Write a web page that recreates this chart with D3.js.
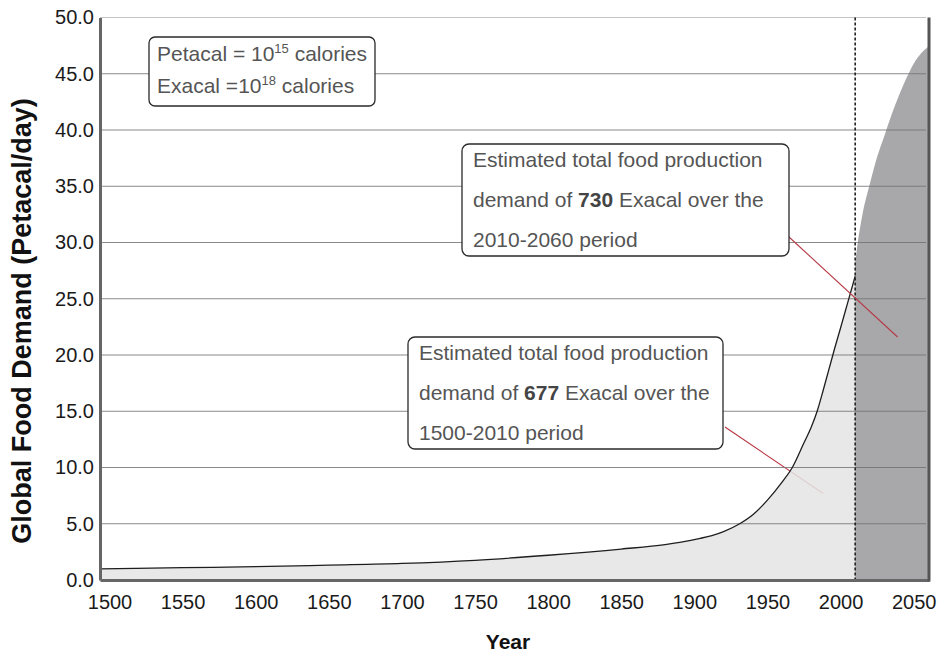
<!DOCTYPE html>
<html>
<head>
<meta charset="utf-8">
<script src="https://cdn.jsdelivr.net/npm/d3@7"></script>
<style>
  body { margin: 0; background: #fff; }
  svg { display: block; font-family: "Liberation Sans", Arial, sans-serif; }
</style>
</head>
<body>
<svg id="chart" width="944" height="653"></svg>
<script>
// Historical global food demand (Petacal/day)
const histYears  = [1490, 1550, 1600, 1650, 1700, 1750, 1800, 1850, 1880, 1890, 1904, 1912, 1920, 1931, 1940, 1950, 1960, 1967, 1975, 1980, 1984, 1988, 1992, 1996, 2000, 2005, 2010];
const histDemand = [0.98, 1.1, 1.18, 1.32, 1.47, 1.75, 2.2, 2.75, 3.15, 3.35, 3.7, 3.95, 4.3, 5.0, 5.8, 7.1, 8.7, 10.0, 12.2, 13.6, 15.0, 16.8, 18.7, 20.6, 22.4, 24.7, 27.0];

// Projected demand, 2010 onward
const projYears  = [2010, 2012, 2015, 2020, 2025, 2030, 2035, 2040, 2045, 2050, 2055, 2060, 2062];
const projDemand = [28.2, 30.2, 32.5, 35.2, 37.6, 39.5, 41.4, 43.1, 44.6, 45.9, 46.8, 47.4, 47.6];

const yTicks = [0, 5, 10, 15, 20, 25, 30, 35, 40, 45, 50];
const xTicks = [1500, 1550, 1600, 1650, 1700, 1750, 1800, 1850, 1900, 1950, 2000, 2050];
const splitYear = 2010;

// Leader-line targets (year, demand)
const pastTarget   = [1988, 7.7];
const futureTarget = [2039, 21.6];

const svg = d3.select("#chart");
const plot = { left: 100, right: 929, top: 17.5, bottom: 580 };

const x = d3.scaleLinear().domain([1493.5, 2060.5]).range([plot.left, plot.right]);
const y = d3.scaleLinear().domain([0, 50]).range([plot.bottom, plot.top]);

const hist = histYears.map((yr, i) => ({ yr, v: histDemand[i] }));
const proj = projYears.map((yr, i) => ({ yr, v: projDemand[i] }));

svg.append("defs").append("clipPath").attr("id", "plotClip")
  .append("rect")
  .attr("x", plot.left).attr("y", plot.top)
  .attr("width", plot.right - plot.left).attr("height", plot.bottom - plot.top);

const g = svg.append("g").attr("clip-path", "url(#plotClip)");

// Annotation boxes (layout)
const pastBox   = { x: 408, y: 337, w: 315, h: 112, num: "677", period: "1500-2010 period", leadY: 90 };
const futureBox = { x: 462, y: 144, w: 327, h: 112, num: "730", period: "2010-2060 period", leadY: 93 };

// leader for the historical note sits under the translucent light area
g.append("line")
  .attr("x1", pastBox.x + pastBox.w + 2).attr("y1", pastBox.y + pastBox.leadY)
  .attr("x2", x(pastTarget[0])).attr("y2", y(pastTarget[1]))
  .attr("stroke", "#b8323f").attr("stroke-width", 1.1);

// historical area
g.append("path").datum(hist)
  .attr("d", d3.area().x(d => x(d.yr)).y0(y(0)).y1(d => y(d.v)).curve(d3.curveMonotoneX))
  .attr("fill", "#e4e4e4").attr("fill-opacity", 0.85);

// projected area
g.append("path").datum(proj)
  .attr("d", d3.area().x(d => x(d.yr)).y0(y(0)).y1(d => y(d.v)).curve(d3.curveMonotoneX))
  .attr("fill", "#a8a8aa");

// gridlines
g.append("g").selectAll("line").data(yTicks.filter(t => t > 0)).join("line")
  .attr("x1", plot.left).attr("x2", plot.right - 3)
  .attr("y1", d => y(d)).attr("y2", d => y(d))
  .attr("stroke", "#727272").attr("stroke-opacity", 0.83).attr("stroke-width", 1.2);

// historical curve
g.append("path").datum(hist)
  .attr("d", d3.line().x(d => x(d.yr)).y(d => y(d.v)).curve(d3.curveMonotoneX))
  .attr("fill", "none").attr("stroke", "#1e1e1e").attr("stroke-width", 1.3);

// split marker
svg.append("line")
  .attr("x1", x(splitYear)).attr("x2", x(splitYear))
  .attr("y1", y(50)).attr("y2", y(0))
  .attr("stroke", "#222").attr("stroke-width", 1.6).attr("stroke-dasharray", "3,2");

// leader for the projection note
svg.append("line")
  .attr("x1", futureBox.x + futureBox.w).attr("y1", futureBox.y + futureBox.leadY)
  .attr("x2", x(futureTarget[0])).attr("y2", y(futureTarget[1]))
  .attr("stroke", "#b53a46").attr("stroke-width", 1.1);

// note boxes
function noteBox(b) {
  const grp = svg.append("g");
  grp.append("rect")
    .attr("x", b.x).attr("y", b.y).attr("width", b.w).attr("height", b.h)
    .attr("rx", 7).attr("fill", "#fff").attr("stroke", "#2a2a2a").attr("stroke-width", 1.3);
  const t = grp.append("text").attr("font-size", 21).attr("fill", "#555");
  t.append("tspan").attr("x", b.x + 11).attr("y", b.y + 23).text("Estimated total food production");
  const l2 = t.append("tspan").attr("x", b.x + 11).attr("y", b.y + 63);
  l2.append("tspan").text("demand of ");
  l2.append("tspan").attr("font-weight", "bold").attr("fill", "#444").text(b.num);
  l2.append("tspan").text(" Exacal over the");
  t.append("tspan").attr("x", b.x + 11).attr("y", b.y + 103).text(b.period);
}
noteBox(futureBox);
noteBox(pastBox);

// units box
const units = svg.append("g");
units.append("rect").attr("x", 149).attr("y", 37).attr("width", 226).attr("height", 69)
  .attr("rx", 6).attr("fill", "#fff").attr("stroke", "#2a2a2a").attr("stroke-width", 1.3);
const ut = units.append("text").attr("font-size", 21).attr("fill", "#555");
const u1 = ut.append("tspan").attr("x", 157).attr("y", 61);
u1.append("tspan").text("Petacal = 10");
u1.append("tspan").attr("font-size", 13).attr("dy", -8).text("15");
u1.append("tspan").attr("dy", 8).text(" calories");
const u2 = ut.append("tspan").attr("x", 157).attr("y", 93);
u2.append("tspan").text("Exacal =10");
u2.append("tspan").attr("font-size", 13).attr("dy", -8).text("18");
u2.append("tspan").attr("dy", 8).text(" calories");

// axes
const yAxis = svg.append("g").attr("transform", `translate(${plot.left},0)`)
  .call(d3.axisLeft(y).tickValues(yTicks).tickFormat(d3.format(".1f")).tickSize(0).tickPadding(6));
const xAxis = svg.append("g").attr("transform", `translate(0,${plot.bottom})`)
  .call(d3.axisBottom(x).tickValues(xTicks).tickFormat(d3.format("d")).tickSize(0).tickPadding(15));

[yAxis, xAxis].forEach(a => {
  a.select(".domain").attr("stroke", "#666").attr("stroke-width", 3);
  a.selectAll("text").attr("font-size", 20).attr("fill", "#1a1a1a")
    .attr("font-family", "Liberation Sans, Arial, sans-serif");
});

// right frame edge
svg.append("line")
  .attr("x1", plot.right).attr("x2", plot.right)
  .attr("y1", plot.top).attr("y2", plot.bottom + 1.5)
  .attr("stroke", "#555").attr("stroke-width", 3);

// axis titles
svg.append("text")
  .attr("x", 508).attr("y", 649)
  .attr("text-anchor", "middle").attr("font-size", 21).attr("font-weight", "bold").attr("fill", "#111")
  .text("Year");

svg.append("text")
  .attr("transform", "translate(31,321) rotate(-90)")
  .attr("text-anchor", "middle").attr("font-size", 27).attr("font-weight", "bold").attr("fill", "#111")
  .text("Global Food Demand (Petacal/day)");
</script>
</body>
</html>
